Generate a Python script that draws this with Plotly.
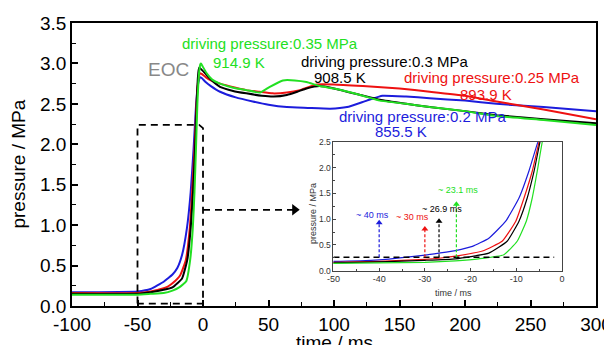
import plotly.graph_objects as go

# ---------------- data ----------------
blue_t = [-100, -50, -40, -30, -26.9, -23.3, -19.6, -16, -12.3, -9.4, -7.2, -5.25, -4, -3, -2.3, -1, 2, 6, 13, 25, 38, 50, 64, 80, 97, 110, 125, 137, 155, 173, 200, 224, 260, 300]
blue_p = [0.17, 0.18, 0.21, 0.30, 0.34, 0.39, 0.47, 0.63, 0.96, 1.41, 1.94, 2.50, 2.72, 2.80, 2.83, 2.82, 2.77, 2.72, 2.65, 2.58, 2.53, 2.49, 2.46, 2.45, 2.44, 2.46, 2.54, 2.60, 2.59, 2.57, 2.54, 2.50, 2.46, 2.41]

red_t = [-100, -50, -40, -30, -26.9, -23.3, -17.4, -13.1, -10.1, -8.3, -6.5, -5.0, -4, -3, -2.3, -1, 2, 6, 13, 25, 33, 43, 53, 64, 74, 87, 100, 122, 150, 173, 200, 224, 260, 300]
red_p = [0.16, 0.16, 0.18, 0.22, 0.24, 0.28, 0.38, 0.57, 0.96, 1.41, 1.93, 2.50, 2.74, 2.85, 2.88, 2.87, 2.83, 2.79, 2.75, 2.70, 2.67, 2.65, 2.63, 2.64, 2.67, 2.74, 2.74, 2.72, 2.69, 2.65, 2.60, 2.53, 2.43, 2.31]

black_t = [-100, -50, -40, -30, -23.3, -16, -12, -9.4, -7.6, -6.1, -4.8, -4, -3.3, -2.8, -1.5, 1.5, 6, 13, 23, 33, 45, 54, 64, 72, 79, 89, 100, 120, 135, 155, 173, 200, 224, 260, 300]
black_p = [0.15, 0.15, 0.17, 0.20, 0.23, 0.34, 0.57, 0.96, 1.41, 1.93, 2.50, 2.80, 2.92, 2.95, 2.93, 2.88, 2.80, 2.71, 2.66, 2.63, 2.60, 2.59, 2.61, 2.65, 2.69, 2.72, 2.69, 2.61, 2.55, 2.50, 2.46, 2.41, 2.36, 2.31, 2.26]

green_t = [-100, -50, -40, -30, -23.3, -18.2, -12.7, -9.8, -7.8, -6.5, -5.4, -4.3, -3, -2, -1.5, -0.5, 2.7, 7, 13, 23, 33, 43.5, 51, 61, 70, 79, 89, 100, 120, 135, 155, 173, 200, 224, 260, 300]
green_p = [0.14, 0.14, 0.15, 0.16, 0.19, 0.23, 0.31, 0.57, 0.96, 1.41, 1.93, 2.50, 2.88, 2.99, 3.00, 2.97, 2.88, 2.80, 2.75, 2.70, 2.67, 2.64, 2.71, 2.79, 2.79, 2.77, 2.72, 2.69, 2.61, 2.54, 2.50, 2.46, 2.41, 2.35, 2.30, 2.24]

series_names = ["0.2 MPa", "0.25 MPa", "0.3 MPa", "0.35 MPa"]
temps = ["855.5 K", "893.9 K", "908.5 K", "914.9 K"]
onset_ms = [-40, -30, -26.9, -23.1]
onset_labels = ["~ 40 ms", "~ 30 ms", "~ 26.9 ms", "~ 23.1 ms"]
threshold_p = 0.26

x_ticks = [-100, -50, 0, 50, 100, 150, 200, 250, 300]
y_ticks = [0.0, 0.5, 1.0, 1.5, 2.0, 2.5, 3.0, 3.5]
inset_x_ticks = [-50, -40, -30, -20, -10, 0]
inset_y_ticks = [0.0, 0.5, 1.0, 1.5, 2.0, 2.5]

BLUE = "#1c1cdc"
RED = "#ee1111"
BLACK = "#000000"
GREEN = "#22e022"
colors = [BLUE, RED, BLACK, GREEN]
data = [(blue_t, blue_p), (red_t, red_p), (black_t, black_p), (green_t, green_p)]

FONT = "Liberation Sans, Arial, sans-serif"

fig = go.Figure()

# main curves
for (t, p), c, n in zip(data, colors, series_names):
    fig.add_trace(go.Scatter(x=t, y=p, mode="lines", line=dict(color=c, width=2, shape="spline", smoothing=0.4),
                             name=n, showlegend=False, xaxis="x", yaxis="y"))

# inset curves
for (t, p), c, n in zip(data, colors, series_names):
    fig.add_trace(go.Scatter(x=t, y=p, mode="lines", line=dict(color=c, width=1.2, shape="spline", smoothing=0.4),
                             name=n, showlegend=False, xaxis="x2", yaxis="y2"))

# dashed zoom box in main plot
fig.add_trace(go.Scatter(x=[-50, -50, -3, 0, 0, -50], y=[0.03, 2.24, 2.24, 2.2, 0.03, 0.03], mode="lines",
                         line=dict(color="black", width=1.8, dash="7px,5px"), showlegend=False, hoverinfo="skip",
                         xaxis="x", yaxis="y"))
# dashed arrow towards the inset
fig.add_trace(go.Scatter(x=[0, 70], y=[1.19, 1.19], mode="lines",
                         line=dict(color="black", width=1.8, dash="7px,5px"), showlegend=False, hoverinfo="skip",
                         xaxis="x", yaxis="y"))
fig.add_trace(go.Scatter(x=[70], y=[1.19], mode="markers", marker=dict(symbol="triangle-right", size=10, color="black"),
                         showlegend=False, hoverinfo="skip", xaxis="x", yaxis="y", cliponaxis=False))

# inset threshold line
fig.add_trace(go.Scatter(x=[-50, -1.7], y=[threshold_p, threshold_p], mode="lines",
                         line=dict(color="black", width=1.5, dash="6px,4px"), showlegend=False, hoverinfo="skip",
                         xaxis="x2", yaxis="y2"))

# inset onset arrows
arrow_tops = [0.99, 0.87, 1.02, 1.35]
for xo, top, c in zip(onset_ms, arrow_tops, colors):
    fig.add_trace(go.Scatter(x=[xo, xo], y=[threshold_p, top - 0.06], mode="lines",
                             line=dict(color=c, width=1.2, dash="3px,2px"), showlegend=False, hoverinfo="skip",
                             xaxis="x2", yaxis="y2"))
    fig.add_trace(go.Scatter(x=[xo], y=[top - 0.06], mode="markers", marker=dict(symbol="triangle-up", size=6, color=c),
                             showlegend=False, hoverinfo="skip", xaxis="x2", yaxis="y2"))

annotations = []
# main text labels: (text, x, y, color)
main_labels = [
    ("driving pressure:" + series_names[3], 51.1, 3.25, GREEN),
    (temps[3], 27.5, 3.01, GREEN),
    ("driving pressure:" + series_names[2], 138.9, 3.02, BLACK),
    (temps[2], 104.6, 2.83, BLACK),
    ("driving pressure:" + series_names[1], 220.6, 2.82, RED),
    (temps[1], 216.0, 2.62, RED),
    ("driving pressure:" + series_names[0], 167.2, 2.34, BLUE),
    (temps[0], 151.1, 2.16, BLUE),
]
for txt, x, y, c in main_labels:
    annotations.append(dict(text=txt, x=x, y=y, xref="x", yref="y", showarrow=False,
                            font=dict(family=FONT, size=15, color=c), xanchor="center", yanchor="middle"))
annotations.append(dict(text="EOC", x=-26.7, y=2.92, xref="x", yref="y", showarrow=False,
                        font=dict(family=FONT, size=19, color="#888888"), xanchor="center", yanchor="middle"))

inset_label_pos = [(-41.4, 1.08), (-32.8, 1.04), (-26.2, 1.2), (-22.8, 1.56)]
for (x, y), txt, c in zip(inset_label_pos, onset_labels, colors):
    annotations.append(dict(text=txt, x=x, y=y, xref="x2", yref="y2", showarrow=False,
                            font=dict(family=FONT, size=9, color=c), xanchor="center", yanchor="middle"))

# axis titles
annotations.append(dict(text="pressure / MPa", x=-0.103, y=0.5, xref="paper", yref="paper", showarrow=False,
                        textangle=-90, font=dict(family=FONT, size=19, color="black"), xanchor="center", yanchor="middle"))
annotations.append(dict(text="time / ms", x=0.5, y=-0.085, xref="paper", yref="paper", showarrow=False,
                        font=dict(family=FONT, size=19, color="black"), xanchor="center", yanchor="top"))
annotations.append(dict(text="time / ms", x=0.729, y=0.046, xref="paper", yref="paper", showarrow=False,
                        font=dict(family=FONT, size=9, color="#333333"), xanchor="center", yanchor="middle"))
annotations.append(dict(text="pressure / MPa", x=0.46, y=0.325, xref="paper", yref="paper", showarrow=False,
                        textangle=-90, font=dict(family=FONT, size=9, color="#333333"), xanchor="center", yanchor="middle"))

# the page body has an 8px default margin, so the figure is sized/offset to land on the 612x345 window
fig.update_layout(
    width=604, height=337,
    margin=dict(l=64, r=16, t=15, b=39, autoexpand=False),
    paper_bgcolor="white", plot_bgcolor="white",
    showlegend=False,
    annotations=annotations,
    xaxis=dict(range=[-100, 300], tickvals=x_ticks, ticktext=[str(v) for v in x_ticks],
               ticks="inside", ticklen=6, tickwidth=1.5, tickcolor="black", automargin=False,
               minor=dict(ticks="inside", ticklen=4, dtick=25, tick0=0, tickcolor="black", tickwidth=1.2),
               showline=True, linecolor="black", linewidth=1.5, mirror=True, showgrid=False, zeroline=False,
               tickfont=dict(family=FONT, size=19, color="black"), domain=[0, 1], anchor="y"),
    yaxis=dict(range=[0, 3.5], tickvals=y_ticks, ticktext=["%.1f" % v for v in y_ticks],
               ticks="inside", ticklen=6, tickwidth=1.5, tickcolor="black", automargin=False,
               minor=dict(ticks="inside", ticklen=4, dtick=0.25, tick0=0, tickcolor="black", tickwidth=1.2),
               showline=True, linecolor="black", linewidth=1.5, mirror=True, showgrid=False, zeroline=False,
               tickfont=dict(family=FONT, size=19, color="black"), domain=[0, 1], anchor="x"),
    xaxis2=dict(range=[-50, 0], tickvals=inset_x_ticks, ticktext=[str(v) for v in inset_x_ticks],
                ticks="inside", ticklen=3, tickcolor="#444444", automargin=False,
                minor=dict(ticks="inside", ticklen=2, dtick=5, tick0=0, tickcolor="#444444"),
                showline=True, linecolor="#444444", linewidth=1, mirror=True, showgrid=False, zeroline=False,
                tickfont=dict(family=FONT, size=9, color="#333333"), domain=[0.499, 0.935], anchor="y2"),
    yaxis2=dict(range=[0, 2.5], tickvals=inset_y_ticks, ticktext=["%.1f" % v for v in inset_y_ticks],
                ticks="inside", ticklen=3, tickcolor="#444444", automargin=False,
                minor=dict(ticks="inside", ticklen=2, dtick=0.25, tick0=0, tickcolor="#444444"),
                showline=True, linecolor="#444444", linewidth=1, mirror=True, showgrid=False, zeroline=False,
                tickfont=dict(family=FONT, size=8.5, color="#333333"), domain=[0.125, 0.58], anchor="x2"),
)

fig.write_html("out.html")
